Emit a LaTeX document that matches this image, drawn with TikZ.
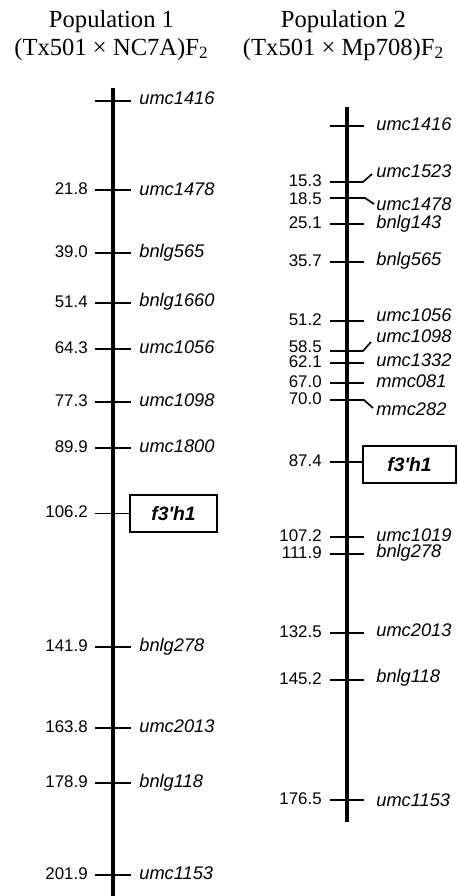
\documentclass[tikz,border=0pt]{standalone}
\usepackage{fontspec}
\setmainfont{Liberation Serif}
\newfontfamily\arialf{Liberation Sans}
\newcommand{\mapfont}{\arialf\fontsize{9.6}{11}\selectfont}
\newcommand{\markfont}{\arialf\fontsize{10.4}{12}\selectfont}

\begin{document}
\begin{tikzpicture}[x=0.02cm, y=-0.02cm,
  chrom/.style={line width=2.3pt},
  mtick/.style={line width=0.95pt},
  cnum/.style={anchor=mid east, inner sep=0pt, font=\mapfont},
  mlabel/.style={anchor=mid west, inner sep=0pt, font=\markfont\itshape},
  qtlbox/.style={draw, line width=1.1pt, inner sep=0pt, minimum height=0.74cm,
                 font=\arialf\fontsize{11}{13}\selectfont\bfseries\itshape},
  poptitle/.style={anchor=base, inner sep=0pt, font=\fontsize{14}{17}\selectfont}]
  % pixel grid of the reference: 457 x 896
  \useasboundingbox (0,0) rectangle (457,896);

  % titles
  \node[poptitle] (T1a) at (111.5,27) {Population 1};
  \node[poptitle] (T1b) at (111.5,55) {(Tx501 × NC7A)F\textsubscript{2}};
  \node[poptitle] (T2a) at (343.5,27) {Population 2};
  \node[poptitle] (T2b) at (343.5,55) {(Tx501 × Mp708)F\textsubscript{2}};

  % ---------------- population 1 ----------------
  \draw[chrom] (113,88) -- (113,896);

  \draw[mtick] (95,101) -- (131,101);
  \node[mlabel] (Lumc1416) at (139,100) {umc1416};

  \draw[mtick] (95,190) -- (131,190);
  \node[cnum]   (Ln1) at (88,190)  {21.8};
  \node[mlabel] (Lumc1478) at (139,191) {umc1478};

  \draw[mtick] (95,253) -- (131,253);
  \node[cnum]   (Ln2) at (88,253)  {39.0};
  \node[mlabel] (Lbnlg565) at (139,253) {bnlg565};

  \draw[mtick] (95,303) -- (131,303);
  \node[cnum]   (Ln3) at (88,303)  {51.4};
  \node[mlabel] (Lbnlg1660) at (139,302) {bnlg1660};

  \draw[mtick] (95,349) -- (131,349);
  \node[cnum]   (Ln4) at (88,349)  {64.3};
  \node[mlabel] (Lumc1056) at (139,349) {umc1056};

  \draw[mtick] (95,402) -- (131,402);
  \node[cnum]   (Ln5) at (88,402)  {77.3};
  \node[mlabel] (Lumc1098) at (139,402) {umc1098};

  \draw[mtick] (95,448) -- (131,448);
  \node[cnum]   (Ln6) at (88,448)  {89.9};
  \node[mlabel] (Lumc1800) at (139,448) {umc1800};

  % QTL box
  \node[qtlbox, minimum width=1.74cm] (Lqtl) at (173.5,513.5) {f3\textquotesingle h1};
  \coordinate (Lq) at (95,513.5);
  \draw[mtick] (Lq) -- (Lqtl.west);
  \node[cnum]   (Ln7) at (88,513)  {106.2};

  \draw[mtick] (95,647) -- (131,647);
  \node[cnum]   (Ln8) at (88,647)  {141.9};
  \node[mlabel] (Lbnlg278) at (139,647) {bnlg278};

  \draw[mtick] (95,728) -- (131,728);
  \node[cnum]   (Ln9) at (88,728)  {163.8};
  \node[mlabel] (Lumc2013) at (139,728) {umc2013};

  \draw[mtick] (95,783) -- (131,783);
  \node[cnum]   (Ln10) at (88,783) {178.9};
  \node[mlabel] (Lbnlg118) at (139,783) {bnlg118};

  \draw[mtick] (95,875) -- (131,875);
  \node[cnum]   (Ln11) at (88,875) {201.9};
  \node[mlabel] (Lumc1153) at (139,875) {umc1153};

  % ---------------- population 2 ----------------
  \draw[chrom] (347,107) -- (347,822);

  \draw[mtick] (330,126) -- (364,126);
  \node[mlabel] (Rumc1416) at (376,126) {umc1416};

  % leaders bent up / down where markers crowd
  \draw[mtick] (330,182) -- (363,182) -- (372,174);
  \node[cnum]   (Rn1) at (322,182) {15.3};
  \node[mlabel] (Rumc1523) at (376,173) {umc1523};

  \draw[mtick] (330,198) -- (365,198) -- (374,204);
  \node[cnum]   (Rn2) at (322,200) {18.5};
  \node[mlabel] (Rumc1478) at (376,206) {umc1478};

  \draw[mtick] (330,224) -- (364,224);
  \node[cnum]   (Rn3) at (322,224) {25.1};
  \node[mlabel] (Rbnlg143) at (376,224) {bnlg143};

  \draw[mtick] (330,262) -- (364,262);
  \node[cnum]   (Rn4) at (322,262) {35.7};
  \node[mlabel] (Rbnlg565) at (376,261) {bnlg565};

  \draw[mtick] (330,321) -- (364,321);
  \node[cnum]   (Rn5) at (322,321) {51.2};
  \node[mlabel] (Rumc1056) at (376,317) {umc1056};

  \draw[mtick] (330,351) -- (363,351) -- (371,342);
  \node[cnum]   (Rn6) at (322,348) {58.5};
  \node[mlabel] (Rumc1098) at (376,338) {umc1098};

  \draw[mtick] (330,363) -- (364,363);
  \node[cnum]   (Rn7) at (322,363) {62.1};
  \node[mlabel] (Rumc1332) at (376,362) {umc1332};

  \draw[mtick] (330,383) -- (364,383);
  \node[cnum]   (Rn8) at (322,383) {67.0};
  \node[mlabel] (Rmmc081) at (376,383) {mmc081};

  \draw[mtick] (330,400) -- (364,400) -- (373,408);
  \node[cnum]   (Rn9) at (322,400) {70.0};
  \node[mlabel] (Rmmc282) at (376,411) {mmc282};

  % QTL box
  \node[qtlbox, minimum width=1.86cm] (Rqtl) at (409.5,464.5) {f3\textquotesingle h1};
  \coordinate (Rq) at (330,462);
  \draw[mtick] (Rq) -- (Rq -| Rqtl.west);
  \node[cnum]   (Rn10) at (322,462) {87.4};

  \draw[mtick] (330,537) -- (364,537);
  \node[cnum]   (Rn11) at (322,537) {107.2};
  \node[mlabel] (Rumc1019) at (376,537) {umc1019};

  \draw[mtick] (330,554) -- (364,554);
  \node[cnum]   (Rn12) at (322,554) {111.9};
  \node[mlabel] (Rbnlg278) at (376,553) {bnlg278};

  \draw[mtick] (330,633) -- (364,633);
  \node[cnum]   (Rn13) at (322,633) {132.5};
  \node[mlabel] (Rumc2013) at (376,632) {umc2013};

  \draw[mtick] (330,680) -- (364,680);
  \node[cnum]   (Rn14) at (322,680) {145.2};
  \node[mlabel] (Rbnlg118) at (376,678) {bnlg118};

  \draw[mtick] (330,800) -- (364,800);
  \node[cnum]   (Rn15) at (322,800) {176.5};
  \node[mlabel] (Rumc1153) at (376,802) {umc1153};

\end{tikzpicture}
\end{document}
